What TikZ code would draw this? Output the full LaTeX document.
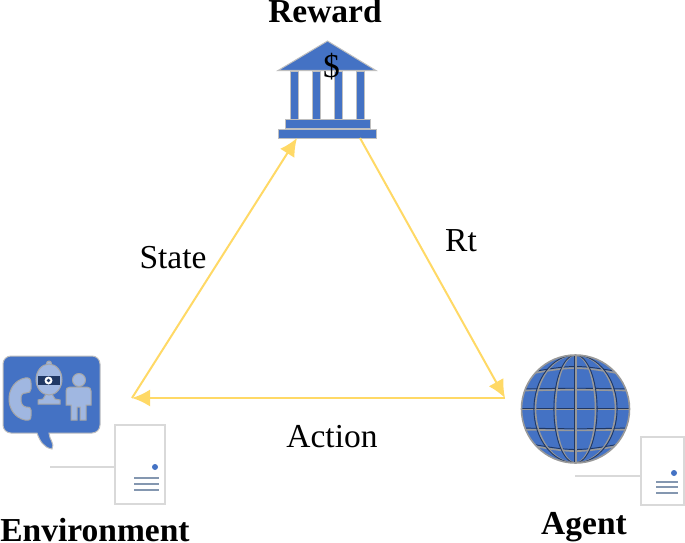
\documentclass[tikz,border=0pt]{standalone}
\usepackage{fontspec}
\setmainfont{Liberation Serif}
\usetikzlibrary{arrows.meta}

\definecolor{iconblue}{HTML}{4472C4}
\definecolor{iconpale}{HTML}{8FAADC}
\definecolor{icondark}{HTML}{203864}
\definecolor{bargray}{HTML}{8497B0}
\definecolor{arrowyellow}{HTML}{FFD966}

\tikzset{
   iconpart/.style={fill=iconblue, draw=black!25, line width=1pt},
   palepart/.style={fill=iconpale!85!white, draw=black!35, line width=1pt},
   serverline/.style={draw=black!15, line width=1.5pt},
   serverbar/.style={draw=bargray, line width=1.8pt},
   gridgray/.style={draw=black!40, line width=1.6pt},
   griddark/.style={draw=icondark, line width=0.9pt},
   arrowline/.style={draw=arrowyellow, line width=2pt, -{Latex[length=18pt,width=17pt]}},
   plainlabel/.style={font=\fontsize{33.5}{40}\selectfont, inner sep=0pt},
   boldlabel/.style={plainlabel, font=\fontsize{33.5}{40}\selectfont\bfseries}
}

\begin{document}
\begin{tikzpicture}[x=1pt, y=-1pt]
   \useasboundingbox (0, 0) rectangle (685, 543);

   % bank
   \draw[iconpart] (327.5, 41) -- (376, 70.5) -- (278, 70.5) -- cycle;
   \foreach \colx in {290, 312, 334, 356}
      \draw[iconpart] (\colx, 71) rectangle (\colx + 8.5, 119);
   \draw[iconpart] (285, 119.5) rectangle (370, 128);
   \draw[iconpart] (278, 129) rectangle (376, 138);
   \node[plainlabel] (dollar) at (331.5, 67) {\$};
   \node[boldlabel] (reward) at (325, 11.5) {Reward};

   % speech bubble
   \draw[iconpart] (11, 356) -- (92, 356) to[out=0, in=90] (100, 364) -- (100, 425)
      to[out=-90, in=0] (92, 433) -- (49, 433) to[out=-90, in=60] (52, 449)
      to[out=170, in=-70] (37, 433) -- (11, 433) to[out=180, in=-90] (3, 425)
      -- (3, 364) to[out=90, in=180] cycle;
   % phone
   \draw[palepart] (25, 378) .. controls (15, 380) and (9, 389) .. (9, 399)
      .. controls (9, 409) and (15, 418) .. (25, 420)
      .. controls (30, 421) and (31, 419) .. (31, 416) -- (31, 410)
      .. controls (31, 407) and (29, 407) .. (26, 407)
      .. controls (22, 406) and (21, 403) .. (21, 399)
      .. controls (21, 395) and (22, 393) .. (26, 393)
      .. controls (29, 393) and (31, 392) .. (31, 389) -- (31, 383)
      .. controls (31, 379) and (29, 377) .. (25, 378) -- cycle;
   % webcam
   \draw[palepart] (38, 404) -- (60, 404) -- (60, 400) -- (55, 399) -- (52, 394)
      -- (46, 394) -- (43, 399) -- (38, 400) -- cycle;
   \draw[palepart] (49, 363.5) circle (2.5);
   \draw[palepart] (49, 379.5) ellipse (13 and 15.5);
   \fill[icondark] (38, 376) rectangle (60, 385);
   \fill[white] (48.5, 380.5) circle (4);
   \fill[icondark] (48.5, 380.5) circle (1.8);
   % person
   \draw[palepart] (79, 380) circle (6.5);
   \draw[palepart] (70, 387) -- (87, 387) .. controls (90, 387) and (91, 389) .. (91, 391)
      -- (91, 405) -- (86, 405) -- (86, 420) -- (80, 420) -- (80, 407) -- (77, 407)
      -- (77, 420) -- (71, 420) -- (71, 405) -- (66, 405) -- (66, 391)
      .. controls (66, 389) and (67, 387) .. (70, 387) -- cycle;

   % left server
   \draw[serverline, fill=white] (115, 425) rectangle (165, 504);
   \draw[serverline] (50, 467) -- (115, 467);
   \fill[iconblue] (155, 467) circle (3);
   \foreach \bary in {478, 484, 490}
      \draw[serverbar] (134, \bary) -- (159, \bary);
   \node[boldlabel] (environment) at (95, 530.5) {Environment};

   % globe
   \fill[iconblue] (575.5, 409) circle (54);
   \begin{scope}
      \clip (575.5, 409) circle (54);
      \foreach \lat/\lift in {-34/-10, -19/-1, 0/0, 20/1, 34/10} {
         \draw[griddark] (520, 409 + \lat - 1) .. controls (575.5, 409 + \lat + \lift - 1) .. (631, 409 + \lat - 1);
         \draw[gridgray] (520, 409 + \lat + 0.6) .. controls (575.5, 409 + \lat + \lift + 0.6) .. (631, 409 + \lat + 0.6);
      }
      \foreach \lon/\lonb in {21.6/20, 41.6/40} {
         \draw[gridgray] (575.5, 409) ellipse ({\lonb} and 54);
         \draw[griddark] (575.5, 409) ellipse ({\lon} and 54);
      }
      \draw[griddark] (574.5, 355) -- (574.5, 463);
      \draw[gridgray] (576.2, 355) -- (576.2, 463);
   \end{scope}
   \draw[gridgray] (575.5, 409) circle (54);

   % right server
   \draw[serverline, fill=white] (641, 437) rectangle (684, 505);
   \draw[serverline] (575, 476) -- (641, 476);
   \fill[iconblue] (674, 473) circle (3);
   \foreach \bary in {482, 487, 493}
      \draw[serverbar] (656, \bary) -- (678, \bary);
   \node[boldlabel] (agent) at (584, 527) {Agent};

   % corners of the triangle
   \coordinate (envcorner) at (132, 398);
   \coordinate (rewardleft) at (297, 138);
   \coordinate (rewardright) at (360, 138);
   \coordinate (agentcorner) at (505, 398);

   \draw[arrowline] (envcorner) -- (rewardleft);
   \draw[arrowline] (rewardright) -- (agentcorner);
   \draw[arrowline] (agentcorner) -- (envcorner);

   \node[plainlabel] (state) at (173, 258) {State};
   \node[plainlabel] (rt) at (461, 241) {Rt};
   \node[plainlabel] (action) at (332, 437) {Action};
\end{tikzpicture}
\end{document}
